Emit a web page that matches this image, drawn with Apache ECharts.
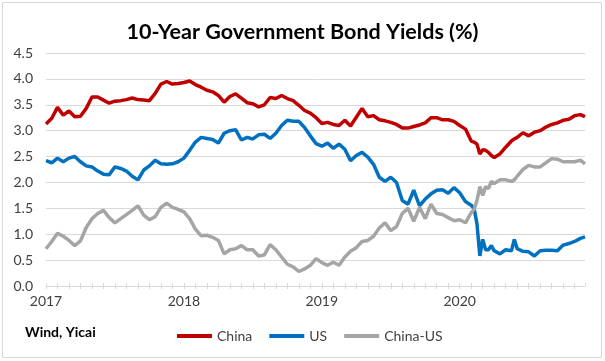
<!DOCTYPE html>
<html><head><meta charset="utf-8">
<script src="https://cdn.jsdelivr.net/npm/echarts@6/dist/echarts.min.js"></script>
<style>html,body{margin:0;padding:0;background:#fff}#c{width:605px;height:361px}</style>
</head><body><div id="c"></div>
<script>
// x position: months elapsed since 1 Jan 2017
const months = [0,0.5,1,1.5,2,2.5,3,3.5,4,4.5,5,5.5,6,6.5,7,7.5,8,8.5,9,9.5,10,10.5,11,11.5,12,12.5,13,13.5,14,14.5,15,15.5,16,16.5,17,17.5,18,18.5,19,19.5,20,20.5,21,21.5,22,22.5,23,23.5,24,24.5,25,25.5,26,26.5,27,27.5,28,28.5,29,29.5,30,30.5,31,31.5,32,32.5,33,33.5,34,34.5,35,35.5,36,36.5,37,37.25,37.5,37.75,38,38.25,38.5,38.75,39,39.5,40,40.5,40.75,41,41.5,42,42.5,43,43.5,44,44.5,45,45.5,46,46.5,46.9];
const china = [3.13,3.24,3.45,3.30,3.38,3.27,3.28,3.43,3.65,3.65,3.59,3.53,3.57,3.58,3.60,3.63,3.60,3.59,3.58,3.72,3.90,3.95,3.90,3.91,3.93,3.96,3.89,3.84,3.78,3.75,3.68,3.55,3.66,3.71,3.63,3.54,3.52,3.46,3.50,3.64,3.62,3.68,3.62,3.58,3.49,3.39,3.34,3.25,3.14,3.16,3.12,3.10,3.20,3.09,3.26,3.43,3.27,3.29,3.21,3.19,3.16,3.12,3.05,3.05,3.08,3.11,3.15,3.25,3.25,3.21,3.21,3.18,3.10,3.03,2.80,2.78,2.74,2.55,2.63,2.62,2.58,2.52,2.48,2.55,2.68,2.80,2.84,2.87,2.96,2.90,2.97,3.00,3.07,3.12,3.15,3.20,3.22,3.29,3.31,3.27];
const us = [2.42,2.38,2.47,2.40,2.47,2.50,2.40,2.32,2.30,2.22,2.16,2.15,2.30,2.27,2.22,2.12,2.05,2.24,2.32,2.43,2.36,2.35,2.36,2.40,2.47,2.62,2.78,2.87,2.85,2.83,2.76,2.95,3.00,3.02,2.82,2.87,2.84,2.92,2.93,2.85,2.95,3.10,3.20,3.18,3.18,3.06,2.90,2.75,2.70,2.76,2.66,2.74,2.64,2.42,2.52,2.58,2.49,2.35,2.10,2.02,2.10,2.00,1.65,1.58,1.85,1.55,1.68,1.78,1.85,1.86,1.79,1.90,1.80,1.63,1.56,1.50,1.20,0.58,0.90,0.70,0.70,0.78,0.68,0.62,0.70,0.68,0.90,0.72,0.67,0.66,0.58,0.68,0.69,0.69,0.68,0.79,0.82,0.86,0.92,0.95];
const chinaUs = [0.72,0.86,1.02,0.96,0.88,0.78,0.87,1.13,1.30,1.40,1.46,1.32,1.22,1.30,1.38,1.46,1.55,1.37,1.28,1.34,1.52,1.60,1.52,1.48,1.43,1.30,1.10,0.97,0.98,0.94,0.88,0.62,0.70,0.72,0.78,0.70,0.70,0.58,0.60,0.80,0.70,0.56,0.42,0.37,0.28,0.33,0.40,0.53,0.45,0.40,0.46,0.40,0.56,0.67,0.74,0.86,0.88,0.96,1.12,1.22,1.07,1.15,1.40,1.50,1.25,1.52,1.30,1.58,1.40,1.38,1.32,1.26,1.28,1.22,1.42,1.48,1.65,1.92,1.75,1.92,1.88,2.02,1.98,2.05,2.05,2.02,2.05,2.12,2.25,2.33,2.30,2.30,2.38,2.46,2.45,2.40,2.40,2.40,2.43,2.36];
const seriesNames = ['China','US','China-US'];
const yearLabels = ['2017','2018','2019','2020'];
const titleText = '10-Year Government Bond Yields (%)';
const sourceText = 'Wind, Yicai';

const FONT = 'Lato';
const colors = ['#C00000','#0070C0','#A5A5A5'];
const xMax = months[months.length-1];
const gridPos = {left:46, right:20, top:53, bottom:75};

const chart = echarts.init(document.getElementById('c'), null, {renderer:'canvas'});
const mk = arr => months.map((m,i)=>[m, arr[i]]);
chart.setOption({
  animation:false,
  backgroundColor:'#fff',
  textStyle:{fontFamily:FONT},
  title:{text:titleText,left:'center',top:16,textStyle:{fontFamily:FONT,fontSize:21.5,fontWeight:'bold',color:'#000'}},
  legend:{data:seriesNames,left:172,top:324,icon:'rect',itemWidth:35,itemHeight:4,itemGap:17,
    textStyle:{fontFamily:FONT,fontSize:14,color:'#404040'}},
  grid:[Object.assign({outerBoundsMode:'none'},gridPos),Object.assign({outerBoundsMode:'none'},gridPos)],
  xAxis:[{type:'value',gridIndex:0,min:0,max:xMax,interval:1,
    axisLine:{show:true,lineStyle:{color:'#d9d9d9',width:1}},
    axisTick:{show:true,length:3,lineStyle:{color:'#d9d9d9'}},
    splitLine:{show:false},
    axisLabel:{margin:8,fontFamily:FONT,fontSize:14,color:'#404040',showMaxLabel:false,
      formatter:v=>{const k=Math.round(v); return (Math.abs(v-k)<1e-6 && k%12===0)?yearLabels[k/12]:'';}}},
    {type:'value',gridIndex:1,min:0,max:xMax,interval:1,
    axisLine:{show:false},axisTick:{show:true,inside:true,length:3,lineStyle:{color:'#d9d9d9'}},
    splitLine:{show:false},axisLabel:{show:false}}],
  yAxis:[{type:'value',gridIndex:0,min:0,max:4.5,interval:0.5,
    axisLine:{show:false},axisTick:{show:false},
    splitLine:{show:true,lineStyle:{color:'#d9d9d9',width:1}},
    axisLabel:{margin:13,fontFamily:FONT,fontSize:14,color:'#404040',formatter:v=>v.toFixed(1)}},
    {type:'value',gridIndex:1,min:0,max:4.5,show:false}],
  series:[
    {name:seriesNames[0],type:'line',data:mk(china),symbol:'none',lineStyle:{color:colors[0],width:3.5},itemStyle:{color:colors[0]}},
    {name:seriesNames[1],type:'line',data:mk(us),symbol:'none',lineStyle:{color:colors[1],width:3.5},itemStyle:{color:colors[1]}},
    {name:seriesNames[2],type:'line',data:mk(chinaUs),symbol:'none',lineStyle:{color:colors[2],width:3.5},itemStyle:{color:colors[2]}}
  ],
  graphic:[
    {type:'rect',shape:{x:2.5,y:2.5,width:599,height:355},style:{fill:null,stroke:'#d9d9d9',lineWidth:1},silent:true},
    {type:'text',left:25,top:325,style:{text:sourceText,font:'bold 14px '+FONT,fill:'#000'}}
  ]
});
</script></body></html>
